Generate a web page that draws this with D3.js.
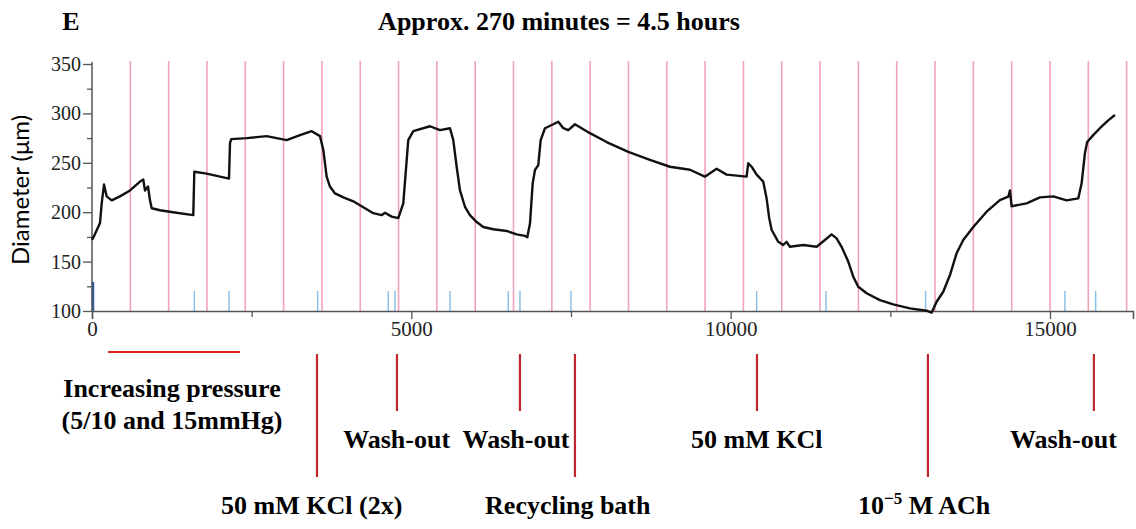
<!DOCTYPE html>
<html>
<head>
<meta charset="utf-8">
<script src="https://cdn.jsdelivr.net/npm/d3@7"></script>
<style>
  body { margin: 0; background: #fff; }
  svg { display: block; }
</style>
</head>
<body>
<script>
// vessel diameter trace (time in s, diameter in um)
var times = [0, 47, 125, 152, 188, 230, 308, 438, 595, 752, 803, 830, 877, 908, 935, 1065, 1268, 1586,
  1602, 1796, 2004, 2145, 2161, 2180, 2422, 2735, 3048, 3257, 3440, 3570, 3622, 3674, 3726, 3805, 3935,
  4091, 4248, 4404, 4535, 4587, 4692, 4796, 4874, 4952, 5031, 5292, 5449, 5605, 5657, 5710, 5762, 5840,
  5918, 6023, 6127, 6283, 6493, 6650, 6780, 6816, 6858, 6900, 6936, 6988, 7025, 7093, 7223, 7301, 7380,
  7458, 7562, 7797, 8058, 8397, 8736, 9049, 9362, 9597, 9780, 9937, 10250, 10275, 10329, 10407, 10510,
  10563, 10604, 10642, 10746, 10824, 10876, 10928, 11137, 11347, 11476, 11581, 11659, 11737, 11841, 11920,
  11998, 12129, 12337, 12546, 12807, 13068, 13146, 13225, 13329, 13434, 13538, 13642, 13799, 14008, 14216,
  14347, 14373, 14399, 14634, 14842, 15051, 15260, 15443, 15495, 15547, 15583, 15677, 15782, 15912, 16017];
var diameter = [172, 178, 189, 209, 228, 216, 212, 216, 222, 231, 233, 222, 226, 212, 204, 202, 200, 197,
  241, 239, 236, 234, 270, 274, 275, 277, 273, 278, 282, 277, 263, 236, 226, 219, 215,
  211, 205, 199, 197, 199.5, 195.5, 194, 209, 273, 282, 287, 283, 285, 273, 246, 222, 205.5,
  197, 190, 185, 182.7, 181, 177.6, 176, 174.6, 188.7, 229, 242.7, 247.7, 273, 285, 289, 291.6, 285,
  283, 289, 280, 271, 261, 253, 246, 243, 236, 244, 238, 236, 249.5, 246, 238, 231,
  214, 194, 182, 170, 166.8, 170, 165, 166.8, 165, 171.9, 177.6, 173.5, 165, 150, 134.7,
  124.6, 118, 111, 106.7, 102.7, 100.3, 98.3, 109.4, 119.5, 136.4, 158.4, 171.9, 185, 200.5, 212.3,
  215.7, 222, 206, 209, 215, 216, 212, 214, 229, 259.6, 271, 278, 285, 293, 298.4];

// marker lines on the recorder
var pinkTimes = d3.range(600, 16201, 600);
var blueTimes = [1602, 2145, 3534, 4639, 4744, 5605, 6518, 6701, 7500, 10407, 11492, 13053, 15234, 15715];

var yTicks = [100, 150, 200, 250, 300, 350];
var yMinor = [125, 175, 225, 275, 325];
var xTicks = [0, 5000, 10000, 15000];
var xMinor = [2500, 7500, 12500];

// protocol annotations below the trace
var pressureSpan = [250, 2317];
var eventTimes = [3523, 4775, 6701, 7562, 10412, 13089, 15688];
var eventLabels = ["50 mM KCl (2x)", "Wash-out", "Wash-out", "Recycling bath", "50 mM KCl", "10-5 M ACh", "Wash-out"];
var eventTier = [2, 1, 1, 2, 1, 2, 1];
var labelTimes = [3440, 4770, 6640, 7450, 10410, 13030, 15210];

var width = 1136, height = 529;

var x = d3.scaleLinear().domain([0, 16300]).range([92, 1133]);
var y = d3.scaleLinear().domain([100, 350]).range([311, 64]);

var svg = d3.select("body").append("svg")
    .attr("width", width)
    .attr("height", height);

var serif = "'Liberation Serif', 'Times New Roman', serif";

// pink vertical time marks
svg.append("g").selectAll("line")
    .data(pinkTimes)
    .enter().append("line")
    .attr("x1", d => x(d)).attr("x2", d => x(d))
    .attr("y1", 61).attr("y2", y(100))
    .attr("stroke", "#f1a2bc")
    .attr("stroke-width", 1.6);

// blue event ticks
svg.append("g").selectAll("line")
    .data(blueTimes)
    .enter().append("line")
    .attr("x1", d => x(d)).attr("x2", d => x(d))
    .attr("y1", y(100) - 20).attr("y2", y(100))
    .attr("stroke", "#8cc0e8")
    .attr("stroke-width", 1.5);
svg.append("line")
    .attr("x1", x(0) + 1).attr("x2", x(0) + 1)
    .attr("y1", y(100) - 29).attr("y2", y(100))
    .attr("stroke", "#2b5ea6")
    .attr("stroke-width", 2.5);

// axes
var yAxis = svg.append("g")
    .attr("transform", "translate(" + x(0) + ",0)")
    .call(d3.axisLeft(y).tickValues(yTicks).tickSize(9).tickPadding(2).tickFormat(d3.format("d")));
svg.append("g")
    .attr("transform", "translate(" + x(0) + ",0)")
    .call(d3.axisLeft(y).tickValues(yMinor).tickSize(5).tickFormat(""))
    .select(".domain").remove();

var xAxis = svg.append("g")
    .attr("transform", "translate(0," + y(100) + ")")
    .call(d3.axisBottom(x).tickValues(xTicks).tickSize(8).tickPadding(2).tickFormat(d3.format("d")));
svg.append("g")
    .attr("transform", "translate(0," + y(100) + ")")
    .call(d3.axisBottom(x).tickValues(xMinor).tickSize(6).tickFormat(""))
    .select(".domain").remove();

svg.selectAll(".domain").attr("stroke", "#555").attr("stroke-width", 1.5);
svg.selectAll(".tick line").attr("stroke", "#555").attr("stroke-width", 1.3);
svg.selectAll(".tick text")
    .attr("font-family", serif)
    .attr("fill", "#222");
yAxis.selectAll(".tick text").attr("font-size", 20);
xAxis.selectAll(".tick text").attr("font-size", 21);
yAxis.selectAll(".domain").attr("d", "M0," + (y(350) - 2) + "V" + y(100));

// the trace
var line = d3.line()
    .x((d, i) => x(times[i]))
    .y(d => y(d));
svg.append("path")
    .datum(diameter)
    .attr("d", line)
    .attr("fill", "none")
    .attr("stroke", "#111")
    .attr("stroke-width", 2.4)
    .attr("stroke-linejoin", "round");

// titles
svg.append("text")
    .attr("x", 71).attr("y", 30)
    .attr("text-anchor", "middle")
    .attr("font-family", serif).attr("font-weight", "bold").attr("font-size", 26)
    .text("E");
svg.append("text")
    .attr("x", 559).attr("y", 30)
    .attr("text-anchor", "middle")
    .attr("font-family", serif).attr("font-weight", "bold").attr("font-size", 26)
    .text("Approx. 270 minutes = 4.5 hours");
svg.append("text")
    .attr("transform", "translate(29,190) rotate(-90)")
    .attr("text-anchor", "middle")
    .attr("font-family", "Lato, 'Open Sans', sans-serif").attr("font-size", 24)
    .text("Diameter (\u03bcm)");

// annotations
var red = "#c0262e";
var bold = function (sel) {
  return sel.attr("text-anchor", "middle")
    .attr("font-family", serif).attr("font-weight", "bold").attr("font-size", 26);
};
svg.append("line")
    .attr("x1", x(pressureSpan[0])).attr("x2", x(pressureSpan[1]))
    .attr("y1", 352).attr("y2", 352)
    .attr("stroke", "#e3201b").attr("stroke-width", 2.2);
bold(svg.append("text").attr("x", 172).attr("y", 397)).text("Increasing pressure");
bold(svg.append("text").attr("x", 172).attr("y", 429)).text("(5/10 and 15mmHg)");

var ev = svg.append("g").selectAll("g")
    .data(eventTimes)
    .enter().append("g");
ev.append("line")
    .attr("x1", d => x(d)).attr("x2", d => x(d))
    .attr("y1", 354)
    .attr("y2", (d, i) => eventTier[i] === 1 ? 411 : 477)
    .attr("stroke", red)
    .attr("stroke-width", 2.2);
var evText = bold(ev.append("text")
    .attr("x", (d, i) => x(labelTimes[i]))
    .attr("y", (d, i) => eventTier[i] === 1 ? 448 : 514));
evText.each(function (d, i) {
  var t = d3.select(this);
  if (eventLabels[i] === "10-5 M ACh") {
    t.append("tspan").text("10");
    t.append("tspan").attr("dy", -10).attr("font-size", 17).text("\u22125");
    t.append("tspan").attr("dy", 10).text(" M ACh");
  } else {
    t.text(eventLabels[i]);
  }
});
</script>
</body>
</html>
